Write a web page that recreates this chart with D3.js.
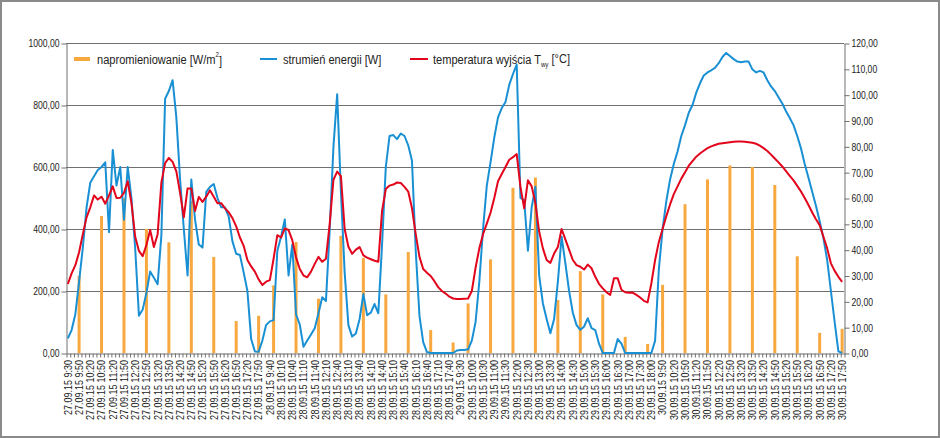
<!DOCTYPE html>
<html>
<head>
<meta charset="utf-8">
<script src="https://cdn.jsdelivr.net/npm/d3@7"></script>
<style>
  body { margin: 0; background: #fff; }
  svg { display: block; font-family: "Liberation Sans", Arial, sans-serif; }
</style>
</head>
<body>
<svg id="chart" width="940" height="438"></svg>
<script>
'use strict';

// x axis labels, one every 3rd measurement (10 min step)
const tickLabels = [
  '27.09.15 9:30', '27.09.15 9:50', '27.09.15 10:20', '27.09.15 10:50', '27.09.15 11:20', '27.09.15 11:50',
  '27.09.15 12:20', '27.09.15 12:50', '27.09.15 13:20', '27.09.15 13:50', '27.09.15 14:20', '27.09.15 14:50',
  '27.09.15 15:20', '27.09.15 15:50', '27.09.15 16:20', '27.09.15 16:50', '27.09.15 17:20', '27.09.15 17:50',
  '28.09.15 9:40', '28.09.15 10:10', '28.09.15 10:40', '28.09.15 11:10', '28.09.15 11:40', '28.09.15 12:10',
  '28.09.15 12:40', '28.09.15 13:10', '28.09.15 13:40', '28.09.15 14:10', '28.09.15 14:40', '28.09.15 15:10',
  '28.09.15 15:40', '28.09.15 16:10', '28.09.15 16:40', '28.09.15 17:10', '28.09.15 17:40',
  '29.09.15 9:30', '29.09.15 10:00', '29.09.15 10:30', '29.09.15 11:00', '29.09.15 11:30', '29.09.15 12:00',
  '29.09.15 12:30', '29.09.15 13:00', '29.09.15 13:30', '29.09.15 14:00', '29.09.15 14:30', '29.09.15 15:00',
  '29.09.15 15:30', '29.09.15 16:00', '29.09.15 16:30', '29.09.15 17:00', '29.09.15 17:30', '29.09.15 18:00',
  '30.09.15 9:50', '30.09.15 10:20', '30.09.15 10:50', '30.09.15 11:20', '30.09.15 11:50', '30.09.15 12:20',
  '30.09.15 12:50', '30.09.15 13:20', '30.09.15 13:50', '30.09.15 14:20', '30.09.15 14:50', '30.09.15 15:20',
  '30.09.15 15:50', '30.09.15 16:20', '30.09.15 16:50', '30.09.15 17:20', '30.09.15 17:50'
];

// strumień energii [W] (left axis), one value per measurement
const energy = [
  47, 74, 125, 230, 340, 470, 550, 570, 590, 600,
  615, 390, 655, 540, 600, 430, 600, 500, 337, 120,
  140, 194, 263, 243, 222, 380, 820, 845, 880, 760,
  560, 400, 250, 560, 430, 350, 340, 520, 536, 545,
  500, 470, 470, 440, 360, 320, 316, 260, 200, 45,
  5, 4, 40, 90, 102, 106, 330, 375, 431, 250,
  350, 125, 92, 20, 40, 60, 80, 128, 180, 168,
  396, 665, 835, 520, 260, 90, 53, 63, 110, 190,
  122, 130, 158, 128, 350, 600, 700, 703, 690, 708,
  700, 670, 620, 330, 120, 35, 3, 0, 0, 0,
  0, 0, 0, 0, 8, 10, 10, 12, 40, 100,
  230, 400, 540, 615, 695, 760, 790, 810, 865, 900,
  930, 500, 493, 330, 470, 536, 250, 160, 110, 64,
  110, 230, 375, 290, 200, 130, 90, 75, 85, 112,
  80, 74, 30, 0, 0, 0, 0, 45, 30, 0,
  0, 0, 0, 0, 0, 0, 0, 40, 270, 400,
  490, 560, 610, 650, 700, 735, 775, 800, 840, 870,
  895, 905, 912, 920, 935, 955, 968, 958, 948, 940,
  938, 940, 940, 915, 905, 910, 905, 880, 860, 845,
  825, 805, 780, 758, 735, 700, 660, 610, 565, 520,
  475, 425, 370, 300, 200, 100, 5, 0
];

// temperatura wyjścia [°C] (right axis)
const temperature = [
  26.7, 30.8, 34, 39, 46, 52.5, 56.4, 61, 59.4, 60.5,
  57.8, 61, 64.5, 60, 60.1, 62, 66.5, 58, 45, 39.5,
  37.5, 41.8, 47.6, 41, 46, 66, 73.5, 75.5, 74, 70.3,
  62, 52.5, 63.7, 63.7, 55, 60.4, 58.5, 60.5, 63, 60.5,
  58, 58, 56, 54.5, 52.2, 49, 44.7, 41.5, 36, 33.5,
  31.5, 28.5, 26.3, 27.6, 28.2, 36.5, 45.6, 44.7, 48.2, 47.6,
  43.7, 37, 32.5, 30, 29.3, 31.5, 34.5, 37.2, 35.3, 36.5,
  50, 67, 70.2, 68.5, 48, 41.1, 38.4, 40, 41, 37.8,
  36.9, 36.3, 35.7, 35.3, 55, 63.5, 64.8, 65.2, 66, 65.8,
  64.3, 62.5, 56, 46, 37.2, 32.5, 31.1, 29.8, 27.8, 25.5,
  24, 23, 21.8, 21.1, 20.9, 20.9, 21, 21.1, 24, 33,
  40.5, 46, 50.1, 54.3, 60, 66.5, 69.3, 72, 74.8, 75.8,
  77, 64.3, 56, 66.9, 64.5, 58, 47, 40.5, 36, 34.9,
  38.5, 41, 48, 44, 40, 36, 34, 33.4, 32.3, 34.2,
  32.8, 29.5, 26.8, 25, 23.5, 22.5, 28.9, 28.9, 24.5, 23.5,
  23.3, 23.4, 22.5, 21.5, 20.2, 19.6, 27, 36, 43, 48,
  53, 57.5, 61.5, 64.5, 67.5, 70, 72.5, 74.3, 76, 77.2,
  78.3, 79.3, 80, 80.5, 81, 81.2, 81.4, 81.6, 81.8, 81.9,
  81.9, 81.8, 81.6, 81.4, 81, 80.3, 79.3, 78.2, 76.8, 75.3,
  73.8, 72.2, 70.4, 68.6, 66.8, 64.7, 62.5, 60, 57.3, 54.4,
  51.8, 49.5, 45, 40.5, 34.7, 31.8, 29.5, 27.5
];

// napromieniowanie [W/m2], measured hourly: measurement index + value
const irradianceIdx = [
  3, 9, 15, 21, 27, 33, 39, 45, 51,
  55, 61, 67, 73, 79, 85, 91, 97, 103,
  107, 113, 119, 125, 131, 137, 143, 149, 155,
  159, 165, 171, 177, 183, 189, 195, 201, 207
];
const irradiance = [
  249, 442, 500, 400, 357, 490, 310, 103, 120,
  218, 358, 175, 378, 307, 189, 326, 74, 34,
  160, 302, 533, 566, 171, 264, 189, 52, 29,
  220, 480, 560, 605, 600, 542, 312, 65, 78
];

const W = 940, H = 438;
const margin = { top: 43, right: 96, bottom: 85, left: 66 };
const NARROW = 0.82; // squeeze Liberation Sans to look like a narrow face
const svg = d3.select('#chart');
const gridColor = '#707070';
const textColor = '#222';
const fmt = (d) => d3.format('.2f')(d).replace('.', ',');

svg.append('rect')
  .attr('x', 1).attr('y', 1).attr('width', W - 2).attr('height', H - 2)
  .attr('fill', '#fff').attr('stroke', '#8a8a8a').attr('stroke-width', 2);

const x = d3.scaleBand()
  .domain(d3.range(energy.length))
  .range([margin.left, W - margin.right]);
const xc = (i) => x(i) + x.bandwidth() / 2;
const yL = d3.scaleLinear().domain([0, 1000]).range([H - margin.bottom, margin.top]);
const yR = d3.scaleLinear().domain([0, 120]).range([H - margin.bottom, margin.top]);

// gridlines
svg.append('g')
  .selectAll('line')
  .data([200, 400, 600, 800, 1000])
  .join('line')
  .attr('x1', margin.left).attr('x2', W - margin.right)
  .attr('y1', (d) => Math.round(yL(d)) + 0.5)
  .attr('y2', (d) => Math.round(yL(d)) + 0.5)
  .attr('stroke', gridColor);

// Y-Axis left
svg.append('g')
  .attr('transform', `translate(${margin.left + 0.5},0.5)`)
  .call(d3.axisLeft(yL).tickValues(d3.range(0, 1001, 200)).tickFormat(fmt).tickSize(5).tickSizeOuter(0))
  .call((g) => g.selectAll('path, line').attr('stroke', gridColor))
  .call((g) =>
    g.selectAll('text')
      .attr('fill', textColor)
      .attr('font-size', 10.5)
      .attr('font-family', null)
      .attr('x', -7 / NARROW)
      .attr('transform', `scale(${NARROW},1)`)
  );

// Y-Axis right
svg.append('g')
  .attr('transform', `translate(${W - margin.right + 0.5},0.5)`)
  .call(d3.axisRight(yR).tickValues(d3.range(0, 121, 10)).tickFormat(fmt).tickSize(5).tickSizeOuter(0))
  .call((g) => g.selectAll('path, line').attr('stroke', gridColor))
  .call((g) =>
    g.selectAll('text')
      .attr('fill', textColor)
      .attr('font-size', 10.5)
      .attr('font-family', null)
      .attr('x', 7 / NARROW)
      .attr('transform', `scale(${NARROW},1)`)
  );

// X-Axis: a tick at every category boundary
const xb = d3.scaleLinear().domain([0, energy.length]).range(x.range());
svg.append('g')
  .attr('transform', `translate(0.5,${H - margin.bottom + 0.5})`)
  .call(d3.axisBottom(xb).tickValues(d3.range(energy.length + 1)).tickFormat('').tickSize(4).tickSizeOuter(0))
  .call((g) => g.selectAll('path, line').attr('stroke', gridColor));

svg.append('g')
  .selectAll('text')
  .data(tickLabels)
  .join('text')
  .attr('transform', (d, k) =>
    `translate(${xc(k * 3)},${H - margin.bottom + 7}) rotate(-90) scale(${NARROW},1)`)
  .attr('text-anchor', 'end')
  .attr('dy', '0.35em')
  .attr('font-size', 11)
  .attr('fill', textColor)
  .text((d) => d);

// bars
svg.append('g')
  .selectAll('rect')
  .data(irradiance)
  .join('rect')
  .attr('x', (d, k) => xc(irradianceIdx[k]) - 1.5)
  .attr('width', 3)
  .attr('y', (d) => yL(d))
  .attr('height', (d) => yL(0) - yL(d))
  .attr('fill', '#f7a940');

// lines
const energyLine = d3.line().x((d, i) => xc(i)).y((d) => yL(d));
const tempLine = d3.line().x((d, i) => xc(i)).y((d) => yR(d));

svg.append('path')
  .datum(energy)
  .attr('fill', 'none')
  .attr('stroke', '#1a90d4')
  .attr('stroke-width', 2)
  .attr('stroke-linejoin', 'round')
  .attr('d', energyLine);

svg.append('path')
  .datum(temperature)
  .attr('fill', 'none')
  .attr('stroke', '#e2051c')
  .attr('stroke-width', 2)
  .attr('stroke-linejoin', 'round')
  .attr('d', tempLine);

// legend
const legend = svg.append('g').attr('font-size', 13.5).attr('fill', textColor);
const legendY = 59;
const legendText = (x0) =>
  legend.append('text')
    .attr('transform', `translate(${x0},${legendY}) scale(${NARROW},1)`)
    .attr('dy', '0.35em');

legend.append('line').attr('x1', 74).attr('x2', 90).attr('y1', legendY).attr('y2', legendY)
  .attr('stroke', '#f7a940').attr('stroke-width', 4);
const t1 = legendText(97);
t1.append('tspan').text('napromieniowanie [W/m');
t1.append('tspan').attr('font-size', 7.5).attr('dy', '-0.95em').text('2');
t1.append('tspan').attr('dy', '0.6em').text(']');

legend.append('line').attr('x1', 260).attr('x2', 277).attr('y1', legendY).attr('y2', legendY)
  .attr('stroke', '#1a90d4').attr('stroke-width', 2);
legendText(283).text('strumień energii [W]');

legend.append('line').attr('x1', 410).attr('x2', 428).attr('y1', legendY).attr('y2', legendY)
  .attr('stroke', '#e2051c').attr('stroke-width', 2);
const t3 = legendText(433);
t3.append('tspan').text('temperatura wyjścia T');
t3.append('tspan').attr('font-size', 7.5).attr('dy', '0.45em').text('wy');
t3.append('tspan').attr('dy', '-0.3em').text(' [°C]');
</script>
</body>
</html>
